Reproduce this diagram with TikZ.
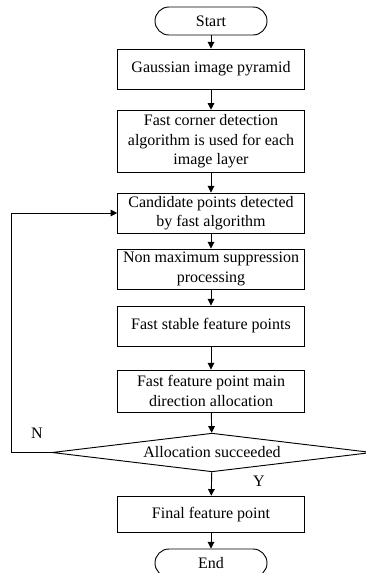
\documentclass[12pt,tikz,border=0pt]{standalone}
\usepackage{fontspec}
\setmainfont{Liberation Serif}
\usetikzlibrary{arrows.meta,shapes.geometric}

\begin{document}
\begin{tikzpicture}[x=0.75pt,y=-0.75pt,
	box/.style={rectangle,draw,line width=0.7pt,minimum width=140pt,minimum height=30pt,align=center,inner sep=2pt},
	term/.style={rectangle,draw,rounded corners=10.5pt,line width=0.7pt,minimum width=84pt,minimum height=21pt,inner sep=0pt},
	decision/.style={diamond,draw,line width=0.7pt,minimum width=240pt,minimum height=29pt,aspect=8,inner sep=0pt},
	arr/.style={line width=0.7pt,-{Triangle[length=5pt,width=5pt]}}]
			\useasboundingbox (0,0) rectangle (365,573);

			% Nodes
			\node[term] (start) at (211,21) {Start};
			\node[box] (pyr) at (211,69) {Gaussian image pyramid};
			\node[box,minimum height=47pt] (corner) at (211,141.5) {Fast corner detection\\algorithm is used for each\\image layer};
			\node[box] (cand) at (211,213) {Candidate points detected\\by fast algorithm};
			\node[box] (nms) at (211,269) {Non maximum suppression\\processing};
			\node[box] (stable) at (211,326) {Fast stable feature points};
			\node[box,minimum height=31.5pt] (orient) at (211,391) {Fast feature point main\\direction allocation};
			\node[decision] (ok) at (212,452.5) {Allocation succeeded};
			\node[box,minimum height=27.5pt] (final) at (211,514.5) {Final feature point};
			\node[term] (end) at (211,563) {End};
			\coordinate (back) at (11,452.5);

			% Labels
			\node (no) at (37,433) {N};
			\node (yes) at (259,481) {Y};

			% Edges
			\draw[arr] (start) -- (pyr);
			\draw[arr] (pyr) -- (corner);
			\draw[arr] (corner) -- (cand);
			\draw[arr] (cand) -- (nms);
			\draw[arr] (nms) -- (stable);
			\draw[arr] (stable) -- (orient);
			\draw[arr] (orient) -- (ok);
			\draw[arr] (ok) -- (final);
			\draw[arr] (final) -- (end);
			\draw[arr] (ok.west) -- (back) |- (cand.west);
		\end{tikzpicture}
\end{document}
